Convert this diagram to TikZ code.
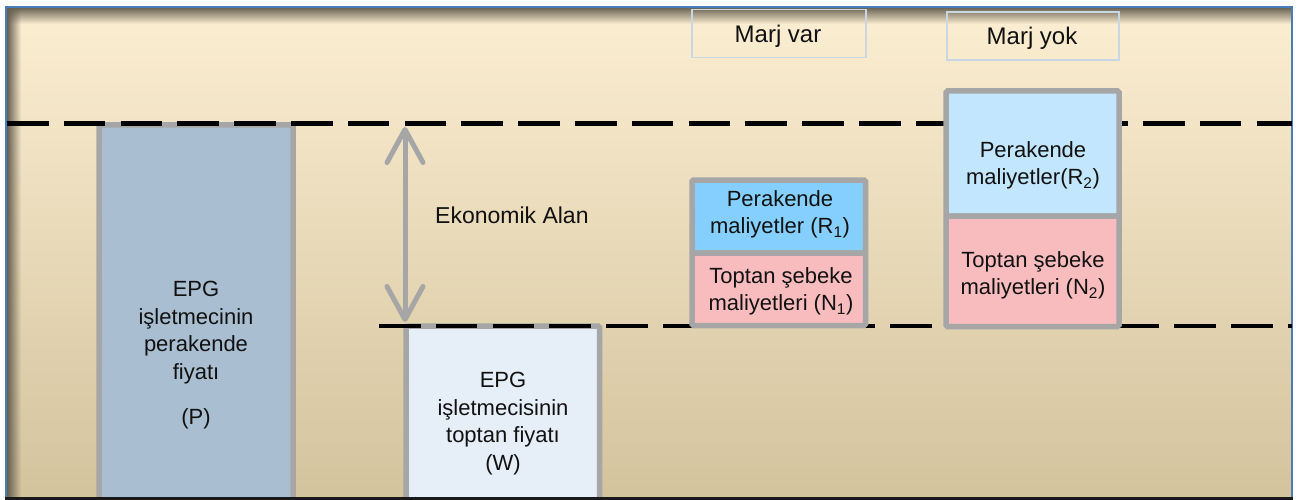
\documentclass[tikz,border=0pt]{standalone}
\usepackage{fontspec}
\setmainfont{Liberation Sans}
\usetikzlibrary{arrows.meta,fadings}
\definecolor{bgtop}{HTML}{FCEED2}
\definecolor{bgmid}{HTML}{F1E8D3}
\definecolor{bgbot}{HTML}{D3C39D}
\definecolor{shadowc}{HTML}{665F50}
\definecolor{frameblue}{HTML}{4A7EBB}
\definecolor{boxgray}{HTML}{A6A6A6}
\definecolor{pfill}{HTML}{A9BED0}
\definecolor{wfill}{HTML}{E6EEF7}
\definecolor{rone}{HTML}{84CFFF}
\definecolor{rtwo}{HTML}{C2E6FE}
\definecolor{nfill}{HTML}{F9BCBE}
\definecolor{marjline}{HTML}{C8D7E3}
\definecolor{txt}{HTML}{111111}
\tikzfading[name=fadeR, left color=transparent!0, right color=transparent!100]
\tikzfading[name=fadeD, top color=transparent!0, bottom color=transparent!100]
\tikzset{
  costbox/.style={draw=boxgray, line width=5.5pt, rounded corners=1.5pt, inner sep=0pt},
  marjbox/.style={draw=marjline, line width=1.5pt, inner sep=0pt},
  lbl/.style={text=txt, align=center, inner sep=0pt, font=\fontsize{22}{27.5}\selectfont},
  dashline/.style={black, line width=4.5pt, dash pattern=on 41.5pt off 15.3pt},
  gaparrow/.style={draw=boxgray, line width=5pt, line cap=round,
    {Straight Barb[length=33pt, width=36pt, round]}-{Straight Barb[length=33pt, width=36pt, round]}}
}
\begin{document}
\begin{tikzpicture}[x=1pt, y=-1pt]
\useasboundingbox (0,0) rectangle (1301,500);
% background
\fill[white] (0,0) rectangle (1301,500);
\shade[top color=bgtop, middle color=bgmid, bottom color=bgbot] (6,7) rectangle (1292,499);
\fill[shadowc, path fading=fadeD] (7,7) rectangle (1292,24);
\fill[shadowc, path fading=fadeR] (7,7) rectangle (21,499);
\draw[frameblue, line width=2pt] (6,499) -- (6,7) -- (1292,7) -- (1292,499);
% big boxes
\node[costbox, fill=pfill, minimum width=194pt, minimum height=380pt] (Pbox) at (196,315) {};
\node[costbox, fill=wfill, minimum width=193.5pt, minimum height=180pt] (Wbox) at (502.75,416) {};
% dashed lines
\coordinate (d1a) at (7,123.3);
\coordinate (d1b) at (1292,123.3);
\coordinate (d2a) at (379,326);
\coordinate (d2b) at (1292,326);
\draw[dashline] (d1a) -- (d1b);
\draw[dashline] (d2a) -- (d2b);
% cost boxes
\node[costbox, fill=rone, minimum width=173.5pt, minimum height=73pt] (R1) at (778.75,216.5) {};
\node[costbox, fill=nfill, minimum width=173.5pt, minimum height=72.5pt] (N1) at (778.75,289.25) {};
\node[costbox, fill=rtwo, minimum width=173pt, minimum height=125pt] (R2) at (1032.5,153.5) {};
\node[costbox, fill=nfill, minimum width=173pt, minimum height=110.5pt] (N2) at (1032.5,271.25) {};
% marj boxes
\node[marjbox, minimum width=174pt, minimum height=48pt] (MV) at (779,33.5) {};
\node[marjbox, minimum width=172pt, minimum height=48pt] (MY) at (1033,36) {};
\node[text=txt, inner sep=0pt, anchor=base, font=\fontsize{24}{28}\selectfont] (MVt) at (778,43) {Marj var};
\node[text=txt, inner sep=0pt, anchor=base, font=\fontsize{24}{28}\selectfont] (MYt) at (1032,45) {Marj yok};
% arrow
\coordinate (atop) at (405,127);
\coordinate (abot) at (405,322);
\draw[gaparrow] (atop) -- (abot);
\node[text=txt, inner sep=0pt, anchor=base west, font=\fontsize{23}{28}\selectfont] (ekon) at (435,223) {Ekonomik Alan};
% texts
\node[lbl, anchor=north] (Ptxt) at (196,281) {EPG\\işletmecinin\\perakende\\fiyatı\\[18pt](P)};
\node[lbl, anchor=north] (Wtxt) at (503,372) {EPG\\işletmecisinin\\toptan fiyatı\\(W)};
\node[lbl, anchor=north] (R1t) at (780,190) {Perakende\\maliyetler (R\textsubscript{1})};
\node[lbl, anchor=north] (N1t) at (781,267) {Toptan şebeke\\maliyetleri (N\textsubscript{1})};
\node[lbl, anchor=north] (R2t) at (1033,141) {Perakende\\maliyetler(R\textsubscript{2})};
\node[lbl, anchor=north] (N2t) at (1033,251) {Toptan şebeke\\maliyetleri (N\textsubscript{2})};
% bottom edge
\draw[black!90, line width=3pt] (5,498.5) -- (1293,498.5);
\end{tikzpicture}
\end{document}
